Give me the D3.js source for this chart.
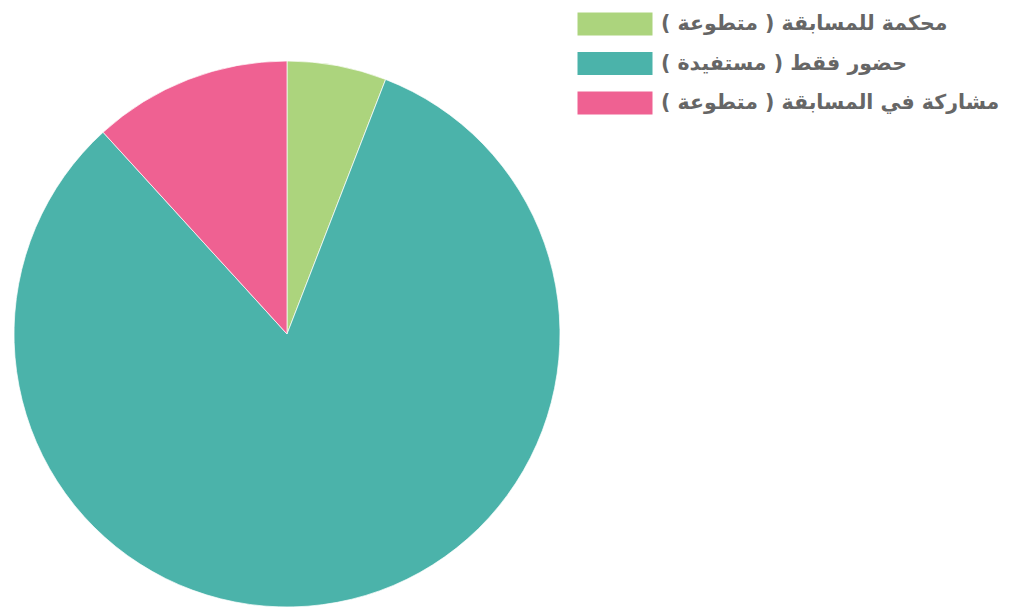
<!DOCTYPE html>
<html>
<head>
<meta charset="utf-8">
<script src="https://cdn.jsdelivr.net/npm/d3@7"></script>
<style>
  body { margin: 0; background: #fff; }
</style>
</head>
<body>
<svg id="vis"></svg>
<script>
// chart data
const labels = ["محكمة للمسابقة ( متطوعة )", "حضور فقط ( مستفيدة )", "مشاركة في المسابقة ( متطوعة )"];
const counts = [1, 14, 2];
const colors = ["#acd47d", "#4bb3aa", "#ef6192"];

const W = 1018, H = 613;
const CX = 287, CY = 334, R = 273;

let svg = d3.select("#vis")
    .attr("width", W)
    .attr("height", H);

let pie = d3.pie().sort(null).value(function(d) { return d; });
let arc = d3.arc().innerRadius(0).outerRadius(R);

let g = svg.append("g")
    .attr("transform", "translate(" + CX + "," + CY + ")");

g.selectAll("path")
    .data(pie(counts))
    .enter()
    .append("path")
    .attr("d", arc)
    .attr("fill", function(d, i) { return colors[i]; })
    .attr("stroke", "#fff")
    .attr("stroke-width", 0.7);

// legend
let legend = svg.append("g")
    .attr("transform", "translate(577,12)");

let item = legend.selectAll("g")
    .data(labels)
    .enter()
    .append("g")
    .attr("transform", function(d, i) { return "translate(0," + (i * 39.5) + ")"; });

item.append("rect")
    .attr("width", 76)
    .attr("height", 24)
    .attr("fill", function(d, i) { return colors[i]; })
    .attr("stroke", "#fff")
    .attr("stroke-width", 1);

item.append("text")
    .attr("x", 84)
    .attr("y", 11)
    .attr("dy", "0.35em")
    .attr("direction", "rtl")
    .attr("text-anchor", "end")
    .attr("font-family", "DejaVu Sans, sans-serif")
    .attr("font-weight", "bold")
    .attr("font-size", 20.5)
    .attr("fill", "#666")
    .text(function(d) { return d; });
</script>
</body>
</html>
